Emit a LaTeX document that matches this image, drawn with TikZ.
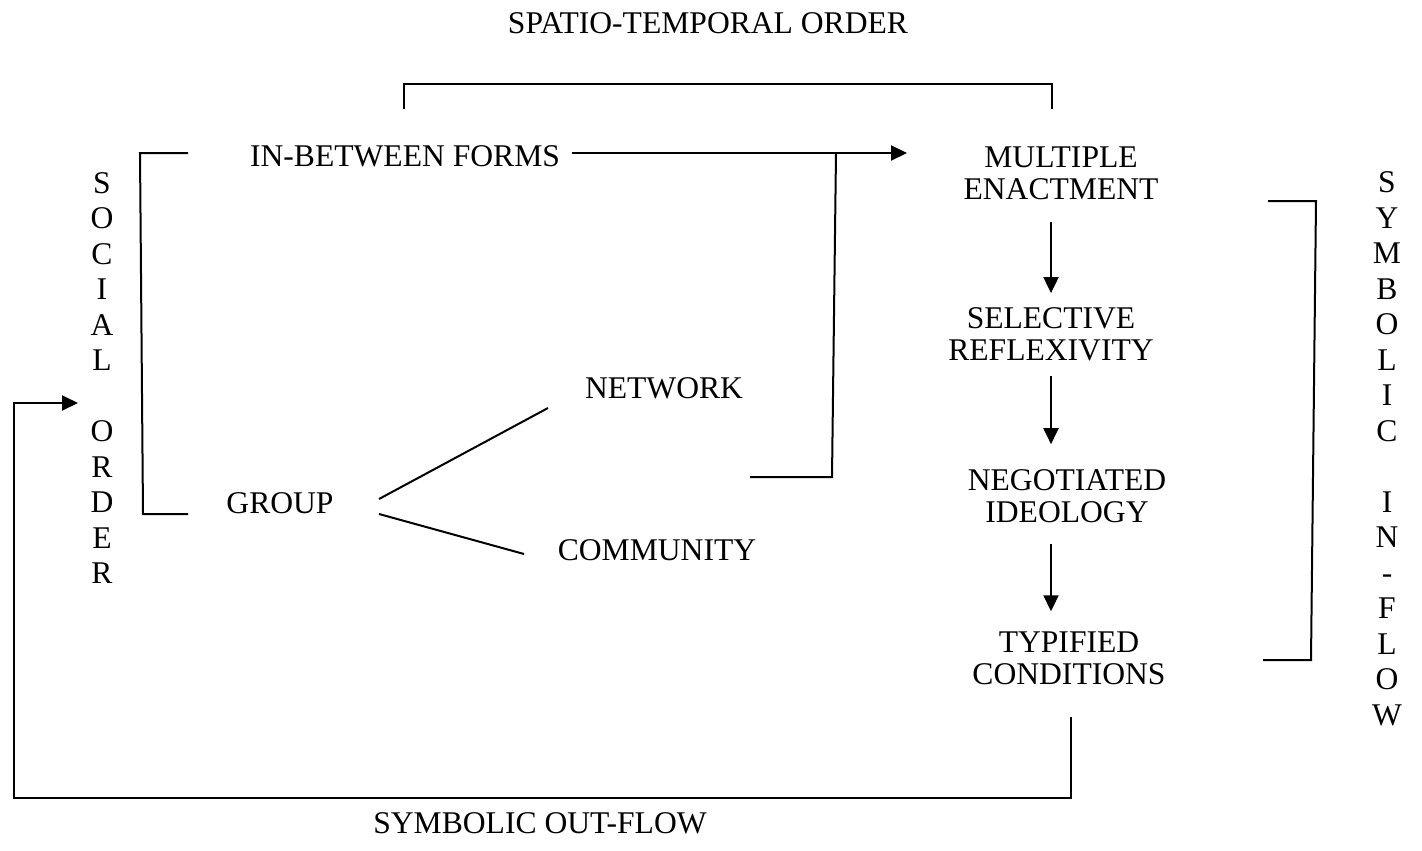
\documentclass[tikz,border=0pt]{standalone}
\usepackage{fontspec}
\setmainfont{Liberation Serif}
\usetikzlibrary{arrows.meta,calc}

\begin{document}
\begin{tikzpicture}[x=1pt,y=-1pt,
  lbl/.style={inner sep=0pt, font=\fontsize{31.6}{32}\selectfont, align=center},
  col/.style={inner sep=0pt, font=\fontsize{31.6}{35.5}\selectfont, align=center},
  ln/.style={line width=2pt, line cap=butt, line join=miter},
  arr/.style={ln, -{Triangle[length=16pt,width=15pt]}}]
\useasboundingbox (0,0) rectangle (1422,851);

% labels
\node[lbl] (st) at (708,23)  {SPATIO-TEMPORAL ORDER};
\node[lbl] (ib) at (405,156) {IN-BETWEEN FORMS};
\node[lbl] (gr) at (280,503) {GROUP};
\node[lbl] (nw) at (664,388) {NETWORK};
\node[lbl] (cm) at (657,550) {COMMUNITY};
\node[lbl] (so) at (540,823) {SYMBOLIC OUT-FLOW};

% right-hand sequence
\node[lbl] (me) at (1061,173) {MULTIPLE\\ENACTMENT};
\node[lbl] (sr) at (1051,334) {SELECTIVE\\REFLEXIVITY};
\node[lbl] (ni) at (1067,496) {NEGOTIATED\\IDEOLOGY};
\node[lbl] (tc) at (1069,658) {TYPIFIED\\CONDITIONS};

% vertical side titles
\node[col] (soc) at (102,378) {S\\O\\C\\I\\A\\L\\[35.5pt]O\\R\\D\\E\\R};
\node[col] (sym) at (1387,449) {S\\Y\\M\\B\\O\\L\\I\\C\\[35.5pt]I\\N\\-\\F\\L\\O\\W};

% reference points for brackets and loops
\coordinate (ax) at (1051,0);
\coordinate (stL) at (404,109);
\coordinate (stR) at (1052,109);
\coordinate (stTop) at (0,84);
\coordinate (sbT) at (188,153);
\coordinate (sbTL) at (140,153);
\coordinate (sbBL) at (143,514);
\coordinate (sbB) at (188,514);
\coordinate (ibEnd) at (572,153);
\coordinate (meIn) at (907,153);
\coordinate (nwEnd) at (750,477);
\coordinate (nwCorner) at (832,477);
\coordinate (nwTop) at (836,153);
\coordinate (grUp) at (379,499);
\coordinate (nwLine) at (548,408);
\coordinate (grDn) at (379,514);
\coordinate (cmLine) at (524,554);
\coordinate (ybT) at (1268,201);
\coordinate (ybTR) at (1316,201);
\coordinate (ybBR) at (1311,660);
\coordinate (ybB) at (1263,660);
\coordinate (outR) at (1071,717);
\coordinate (outBL) at (14,798);
\coordinate (inS) at (78,403);

% spatio-temporal bracket
\draw[ln] (stL) -- (stL |- stTop) -- (stR |- stTop) -- (stR);

% social order bracket
\draw[ln] (sbT) -- (sbTL) -- (sbBL) -- (sbB);

% in-between forms to multiple enactment
\draw[arr] (ibEnd) -- (meIn);

% network / community feed into the main arrow
\draw[ln] (nwEnd) -- (nwCorner) -- (nwTop);

% group branches
\draw[ln] (grUp) -- (nwLine);
\draw[ln] (grDn) -- (cmLine);

% sequence arrows
\draw[arr, shorten <=22pt, shorten >=14pt] (me.south -| ax) -- (sr.north -| ax);
\draw[arr, shorten <=15pt, shorten >=25pt] (sr.south -| ax) -- (ni.north -| ax);
\draw[arr, shorten <=21pt, shorten >=20pt] (ni.south -| ax) -- (tc.north -| ax);

% symbolic in-flow bracket
\draw[ln] (ybT) -- (ybTR) -- (ybBR) -- (ybB);

% symbolic out-flow loop back to social order
\draw[arr] (outR) |- (outBL) |- (inS);
\end{tikzpicture}
\end{document}
